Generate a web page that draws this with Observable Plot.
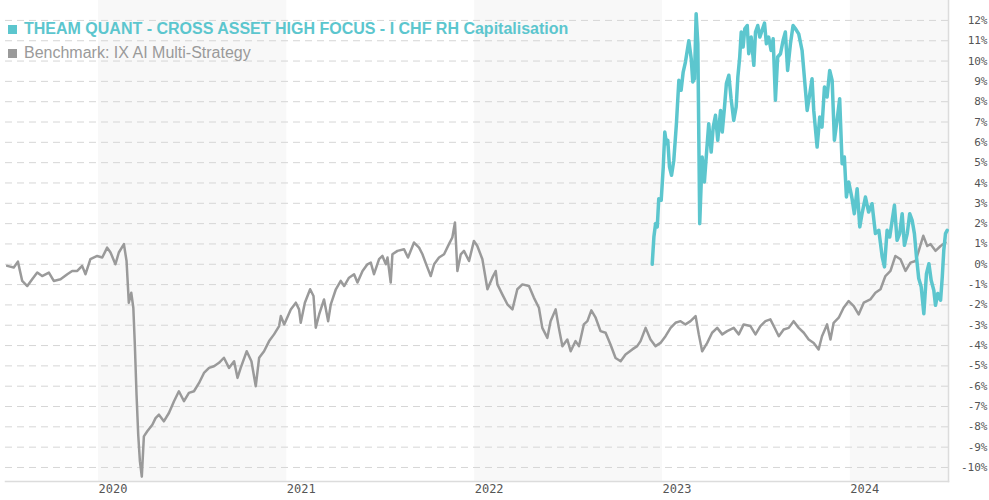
<!DOCTYPE html>
<html>
<head>
<meta charset="utf-8">
<script src="https://cdn.jsdelivr.net/npm/d3@7"></script>
<script src="https://cdn.jsdelivr.net/npm/@observablehq/plot@0.6"></script>
<style>
  body { margin: 0; background: #fff; }
  #wrap { position: relative; width: 989px; height: 500px; }
  #legend { position: absolute; left: 8px; top: 17px; font-family: "Liberation Sans", Arial, sans-serif; }
  .item { display: flex; align-items: center; height: 24px; white-space: nowrap; }
  .sw { width: 9px; height: 9px; margin-right: 7px; }
  .fund { color: #5cc6ce; font-weight: bold; font-size: 16px; }
  .bench { color: #9a9a9a; font-size: 16px; }
</style>
</head>
<body>
<div id="wrap"></div>
<script>
// Time as decimal years, values in %
const fundName = "THEAM QUANT - CROSS ASSET HIGH FOCUS - I CHF RH Capitalisation";
const benchName = "Benchmark: IX AI Multi-Strategy";
const yearTicks = [2020, 2021, 2022, 2023, 2024];
const yTicks = [-10,-9,-8,-7,-6,-5,-4,-3,-2,-1,0,1,2,3,4,5,6,7,8,9,10,11,12];
const shadedYears = [2020, 2022, 2024];

const benchT = [2019.514,2019.549,2019.571,2019.594,2019.621,2019.647,2019.674,2019.700,2019.736,2019.762,2019.798,2019.834,2019.860,2019.887,2019.913,2019.931,2019.957,2019.993,2020.020,2020.046,2020.064,2020.090,2020.108,2020.135,2020.149,2020.161,2020.174,2020.185,2020.193,2020.202,2020.211,2020.220,2020.230,2020.241,2020.259,2020.286,2020.303,2020.321,2020.347,2020.374,2020.401,2020.427,2020.454,2020.480,2020.507,2020.534,2020.560,2020.587,2020.613,2020.640,2020.666,2020.693,2020.720,2020.738,2020.755,2020.787,2020.812,2020.835,2020.853,2020.879,2020.906,2020.932,2020.959,2020.968,2020.986,2021.021,2021.048,2021.065,2021.074,2021.096,2021.124,2021.142,2021.154,2021.172,
2021.198,2021.220,2021.234,2021.261,2021.287,2021.305,2021.331,2021.358,2021.376,2021.403,2021.429,2021.447,2021.464,2021.491,2021.509,2021.527,2021.536,2021.553,2021.562,2021.589,2021.624,2021.645,2021.677,2021.704,2021.722,2021.745,2021.766,2021.784,2021.810,2021.837,2021.863,2021.881,2021.895,2021.908,2021.926,2021.943,2021.970,2021.996,2022.014,2022.041,2022.068,2022.094,2022.112,2022.121,2022.147,2022.174,2022.201,2022.227,2022.254,2022.289,2022.315,2022.342,2022.360,2022.387,2022.404,2022.431,2022.448,2022.467,2022.493,2022.511,2022.537,2022.555,2022.581,2022.600,2022.621,2022.644,2022.670,2022.697,2022.723,2022.750,2022.777,2022.803,2022.839,2022.865,
2022.883,2022.910,2022.936,2022.963,2022.989,2023.016,2023.043,2023.069,2023.096,2023.122,2023.149,2023.176,2023.193,2023.211,2023.238,2023.264,2023.291,2023.318,2023.344,2023.379,2023.406,2023.432,2023.468,2023.495,2023.521,2023.548,2023.574,2023.592,2023.619,2023.645,2023.672,2023.698,2023.725,2023.752,2023.778,2023.805,2023.831,2023.849,2023.876,2023.894,2023.911,2023.938,2023.964,2023.991,2024.018,2024.044,2024.071,2024.106,2024.133,2024.160,2024.186,2024.213,2024.239,2024.266,2024.293,2024.319,2024.346,2024.363,2024.387,2024.408,2024.426,2024.452,2024.479,2024.505];
const benchV = [-0.08,-0.16,0.13,-0.82,-1.07,-0.74,-0.41,-0.58,-0.41,-0.82,-0.74,-0.49,-0.33,-0.33,-0.08,-0.49,0.25,0.41,0.33,0.82,0.58,0.00,0.58,0.99,0.16,-1.89,-1.40,-2.14,-3.95,-6.41,-8.39,-9.70,-10.45,-8.47,-8.22,-7.90,-7.57,-7.40,-7.73,-7.32,-6.74,-6.25,-6.74,-6.33,-6.25,-5.84,-5.35,-5.10,-5.02,-4.85,-4.60,-5.10,-4.77,-5.59,-5.10,-4.28,-4.77,-6.00,-4.60,-4.28,-3.78,-3.45,-3.04,-2.55,-2.96,-2.22,-1.89,-2.22,-2.88,-1.89,-1.23,-1.56,-3.12,-2.47,
-1.73,-2.80,-1.97,-1.23,-0.82,-1.07,-0.66,-0.49,-0.90,-0.33,0.00,0.08,-0.49,0.25,0.41,0.00,0.33,-0.90,0.49,0.66,0.74,0.33,1.07,0.82,0.49,-0.08,-0.58,0.00,0.33,0.49,0.99,1.32,2.06,-0.33,0.49,0.66,0.16,1.15,0.90,0.25,-1.23,-0.66,-0.33,-0.99,-1.48,-1.97,-2.22,-1.23,-0.99,-1.07,-1.64,-2.14,-3.13,-3.62,-2.80,-2.22,-3.13,-4.03,-3.70,-4.28,-3.78,-4.03,-2.96,-2.80,-2.27,-2.63,-3.29,-3.37,-3.95,-4.61,-4.77,-4.44,-4.19,-4.03,
-3.78,-3.13,-3.70,-4.03,-3.87,-3.54,-3.13,-2.88,-2.80,-2.96,-2.80,-2.55,-3.45,-4.28,-3.87,-3.37,-3.13,-3.45,-3.29,-3.13,-3.45,-2.96,-3.04,-3.45,-3.04,-2.80,-2.71,-3.04,-3.54,-3.21,-3.13,-2.80,-3.13,-3.37,-3.70,-3.87,-4.19,-3.54,-2.96,-3.70,-2.88,-2.63,-2.14,-1.81,-2.06,-2.47,-1.89,-1.73,-1.40,-1.23,-0.58,-0.33,0.41,0.25,-0.33,0.08,0.16,0.66,1.40,0.90,0.99,0.66,0.90,1.07];

const fundT = [2022.945,2022.954,2022.963,2022.972,2022.980,2022.993,2023.004,2023.012,2023.021,2023.028,2023.037,2023.048,2023.060,2023.074,2023.087,2023.099,2023.110,2023.122,2023.140,2023.153,2023.161,2023.170,2023.179,2023.188,2023.198,2023.211,2023.223,2023.234,2023.246,2023.259,2023.270,2023.282,2023.294,2023.309,2023.318,2023.330,2023.340,2023.353,2023.365,2023.379,2023.392,2023.401,2023.411,2023.419,2023.429,2023.438,2023.451,2023.459,2023.472,2023.486,2023.495,2023.507,2023.518,2023.530,2023.543,2023.553,2023.565,2023.578,2023.589,2023.601,2023.613,2023.628,2023.642,2023.654,2023.666,2023.681,2023.695,
2023.707,2023.725,2023.743,2023.752,2023.770,2023.784,2023.796,2023.805,2023.823,2023.837,2023.849,2023.862,2023.876,2023.890,2023.903,2023.915,2023.929,2023.943,2023.956,2023.968,2023.979,2023.991,2024.009,2024.021,2024.036,2024.050,2024.062,2024.080,2024.097,2024.115,2024.133,2024.151,2024.169,2024.181,2024.195,2024.209,2024.222,2024.234,2024.248,2024.262,2024.275,2024.287,2024.302,2024.315,2024.328,2024.340,2024.351,2024.363,2024.376,2024.390,2024.404,2024.417,2024.429,2024.443,2024.452,2024.464,2024.479,2024.488,2024.496,2024.505,2024.514];
const fundV = [0.00,1.34,2.00,1.84,3.23,3.15,4.79,6.51,5.93,6.10,4.79,4.38,5.11,6.92,9.05,8.56,9.46,9.95,11.00,10.10,8.97,9.13,12.33,10.85,2.00,5.28,4.05,5.44,6.92,5.52,6.75,7.33,6.10,7.57,6.51,7.74,8.89,9.30,8.15,7.08,7.74,9.21,10.20,11.43,10.69,11.59,11.75,10.36,11.18,9.79,11.43,11.75,11.18,11.51,11.87,10.85,11.18,10.52,11.10,8.07,10.20,10.36,11.02,11.43,9.54,10.85,11.75,
11.60,11.34,10.52,9.54,7.57,8.39,9.13,7.57,5.77,7.25,6.75,8.72,8.23,9.54,9.05,6.10,7.08,8.15,4.95,5.28,3.31,4.05,3.23,2.49,3.72,1.84,2.49,3.31,2.57,2.98,1.51,1.67,0.36,-0.13,1.67,1.34,2.16,2.90,1.18,1.51,2.49,0.93,1.51,2.49,2.16,1.51,0.36,-0.70,-1.11,-2.43,-0.46,0.03,-0.79,-1.28,-2.02,-1.44,-1.77,-0.62,0.69,1.51,1.67];

const xStart = 2019.505, xEnd = 2024.521;

function toDate(t) {
  const y = Math.floor(t);
  const a = Date.UTC(y, 0, 1), b = Date.UTC(y + 1, 0, 1);
  return new Date(a + (t - y) * (b - a));
}

const bench = benchT.map((t, i) => ({date: toDate(t), value: benchV[i]}));
const fund = fundT.map((t, i) => ({date: toDate(t), value: fundV[i]}));
const bands = shadedYears.map(y => ({x1: toDate(y), x2: toDate(Math.min(y + 1, xEnd))}));
const years = yearTicks.map(y => ({date: toDate(y), label: String(y)}));

const tickFont = "'DejaVu Sans Mono', monospace";

const chart = Plot.plot({
  width: 989,
  height: 500,
  marginLeft: 5,
  marginRight: 41,
  marginTop: 0,
  marginBottom: 19,
  style: {background: "transparent", overflow: "visible"},
  x: {type: "utc", domain: [toDate(xStart), toDate(xEnd)], axis: null},
  y: {domain: [-10.69, 12.98], axis: null},
  marks: [
    Plot.rect(bands, {x1: "x1", x2: "x2", fill: "#f8f8f8"}),
    Plot.ruleY(yTicks, {stroke: "#d6d6d6", strokeDasharray: "7,5", strokeWidth: 1}),
    Plot.frame({anchor: "bottom", stroke: "#dcdcdc", strokeWidth: 1.5}),
    Plot.frame({anchor: "right", stroke: "#dcdcdc", strokeWidth: 1.5}),
    Plot.text(yTicks, {y: d => d, text: d => d + "%", frameAnchor: "right", dx: 39, textAnchor: "end",
      fontFamily: tickFont, fontSize: 11, fill: "#555", letterSpacing: "1px"}),
    Plot.text(years, {x: "date", text: "label", frameAnchor: "bottom", dy: 11, textAnchor: "start", dx: 0,
      fontFamily: tickFont, fontSize: 12, fill: "#555", letterSpacing: "1.4px"}),
    Plot.line(bench, {x: "date", y: "value", stroke: "#9a9a9a", strokeWidth: 2.5, strokeLinejoin: "round"}),
    Plot.line(fund, {x: "date", y: "value", stroke: "#5cc6ce", strokeWidth: 3.5, strokeLinejoin: "round"})
  ]
});

const wrap = document.getElementById("wrap");
wrap.appendChild(chart);
const legend = document.createElement("div");
legend.id = "legend";
legend.innerHTML =
  `<div class="item fund"><span class="sw" style="background:#5cc6ce"></span>${fundName}</div>` +
  `<div class="item bench"><span class="sw" style="background:#9a9a9a"></span>${benchName}</div>`;
wrap.appendChild(legend);
</script>
</body>
</html>
